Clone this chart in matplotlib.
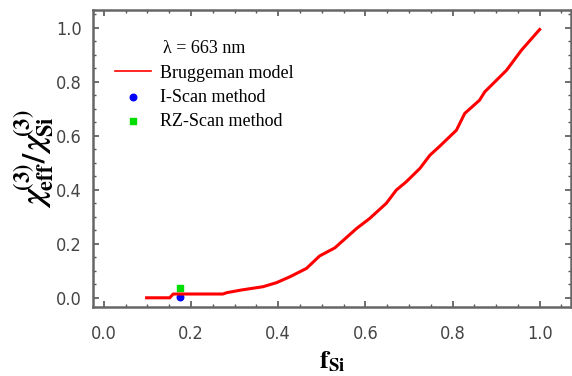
import matplotlib
matplotlib.use("Agg")
import matplotlib.pyplot as plt
from matplotlib.ticker import MultipleLocator

plt.rcParams["mathtext.fontset"] = "stix"

# Bruggeman model curve
f_si = [0.098, 0.151, 0.159, 0.273, 0.282, 0.316, 0.365, 0.396, 0.427, 0.465,
        0.495, 0.530, 0.580, 0.610, 0.648, 0.671, 0.694, 0.725, 0.748, 0.771,
        0.809, 0.828, 0.862, 0.874, 0.924, 0.958, 1.000]
chi_ratio = [0.000, 0.000, 0.014, 0.014, 0.019, 0.029, 0.041, 0.056, 0.078, 0.109,
             0.155, 0.185, 0.257, 0.294, 0.350, 0.399, 0.430, 0.479, 0.528, 0.562,
             0.621, 0.683, 0.732, 0.763, 0.843, 0.917, 0.994]

# Experimental points
iscan_x = [0.174]
iscan_y = [0.002]
rzscan_x = [0.174]
rzscan_y = [0.035]

xticks = [0.0, 0.2, 0.4, 0.6, 0.8, 1.0]
yticks = [0.0, 0.2, 0.4, 0.6, 0.8, 1.0]

fig = plt.figure(figsize=(5.72, 3.76), dpi=100)
ax = fig.add_axes([0.1626, 0.1843, 0.8365, 0.789])

ax.plot(f_si, chi_ratio, color="#ff0000", lw=2.2, label="Bruggeman model", zorder=3)
ax.scatter(iscan_x, iscan_y, s=22, color="#0000ff", marker="o", label="I-Scan method", zorder=2)
ax.scatter(rzscan_x, rzscan_y, s=22, color="#00dd00", marker="s", label="RZ-Scan method", zorder=2)

ax.set_xlim(-0.025, 1.073)
ax.set_ylim(-0.033, 1.066)
ax.set_xticks(xticks)
ax.set_yticks(yticks)
ax.set_xticklabels([f"{t:.1f}" for t in xticks])
ax.set_yticklabels([f"{t:.1f}" for t in yticks])
ax.xaxis.set_minor_locator(MultipleLocator(0.05))
ax.yaxis.set_minor_locator(MultipleLocator(0.05))
ax.tick_params(which="both", direction="in", top=True, right=True, color="#555555")
ax.tick_params(which="major", length=4, width=1.2, labelsize=13, labelcolor="#444444")
ax.tick_params(axis="x", which="major", pad=13)
ax.tick_params(axis="y", which="major", pad=8)
ax.tick_params(which="minor", length=2, width=1)
for lab in ax.get_xticklabels() + ax.get_yticklabels():
    lab.set_family(["Liberation Sans Narrow", "DejaVu Sans"])
    lab.set_stretch("condensed")
for s in ax.spines.values():
    s.set_color("#666666")
    s.set_linewidth(1.8)

ax.set_xlabel(r"$\mathbf{f}_{\mathbf{Si}}$", fontsize=19, labelpad=4)
ax.set_ylabel(r"$\boldsymbol{\chi}_{\mathbf{eff}}^{\mathbf{(3)}}\mathbf{/}\,\boldsymbol{\chi}_{\mathbf{Si}}^{\mathbf{(3)}}$",
              fontsize=23, labelpad=0)

leg = ax.legend(loc="upper left", bbox_to_anchor=(0.02, 0.94), frameon=False,
                title="λ = 663 nm", prop={"family": "Liberation Serif", "size": 13},
                handlelength=2.0, handletextpad=0.5, labelspacing=0.4, borderpad=0.2)
leg.get_title().set_family("Liberation Serif")
leg.get_title().set_fontsize(13)
leg.legend_handles[0].set_linewidth(1.2)

fig.savefig("out.png", dpi=100)
